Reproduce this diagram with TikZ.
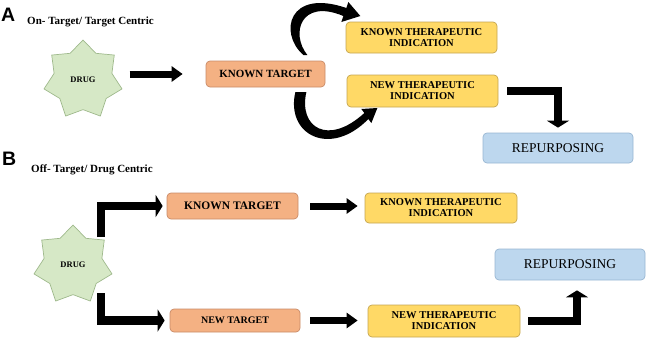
\documentclass[tikz,border=0pt]{standalone}
\usepackage{fontspec}
\setmainfont{Liberation Serif}
\newfontfamily\panelfont{Liberation Sans}
\usepackage{tikz}
\usetikzlibrary{arrows.meta,positioning,calc,shapes.geometric}
\definecolor{drugfill}{HTML}{D6E8C6}
\definecolor{drugline}{HTML}{9FB98C}
\definecolor{tgtfill}{HTML}{F4B183}
\definecolor{tgtline}{HTML}{C98B68}
\definecolor{indfill}{HTML}{FFD966}
\definecolor{indline}{HTML}{C4A552}
\definecolor{repfill}{HTML}{BDD7EE}
\definecolor{repline}{HTML}{98B6D2}
\tikzset{
  box/.style={draw,rounded corners=4pt,line width=0.7pt,inner sep=0pt,align=center},
  target/.style={box,fill=tgtfill,draw=tgtline,font=\bfseries\fontsize{11}{12}\selectfont},
  indic/.style={box,fill=indfill,draw=indline,minimum width=151pt,font=\bfseries\fontsize{10.5}{11}\selectfont},
  repur/.style={box,fill=repfill,draw=repline,minimum width=150pt,minimum height=30pt,font=\fontsize{13.5}{15}\selectfont},
  drug/.style={star,star points=7,star point ratio=1.35,minimum size=80pt,inner sep=0pt,fill=drugfill,draw=drugline,line width=0.7pt,font=\bfseries\fontsize{8.5}{10}\selectfont},
  bar/.style={line width=7pt,-{Triangle[length=11pt,width=15pt]}},
  elbow/.style={line width=8.5pt,line join=miter,-{Triangle[length=7pt,width=22pt]}},
  panel/.style={inner sep=0pt,font=\panelfont\bfseries\fontsize{19.5}{20}\selectfont},
  caption/.style={inner sep=0pt,anchor=base west,font=\bfseries\fontsize{11}{12}\selectfont}
}
\begin{document}
\begin{tikzpicture}[x=1pt,y=-1pt]
  \useasboundingbox (0,0) rectangle (650,340);
  \node[panel,anchor=west] (labA) at (1,15) {A};
  \node[caption] (capA) at (27,24) {On- Target/ Target Centric};
  \node[drug] (drugA) at (83,80) {DRUG};
  \node[target,minimum width=119pt,minimum height=26pt] (ktA) at (265.5,74) {KNOWN TARGET};
  \node[indic,minimum height=31pt] (ktiA) at (421.5,37.5) {KNOWN THERAPEUTIC\\INDICATION};
  \node[indic,minimum height=32pt] (ntiA) at (422.5,91) {NEW THERAPEUTIC\\INDICATION};
  \node[repur] (repA) at (558,148) {REPURPOSING};
  \draw[bar,shorten <=13pt,shorten >=23pt] (drugA.east |- ktA.west) -- (ktA.west);
  \begin{scope}[shift={(ktA.east)}]
    \fill (-22,-19) .. controls (-47,-41) and (-37,-86) .. (21,-66) -- (23,-72) -- (35,-58) -- (16,-52) -- (18,-58) .. controls (-25,-76) and (-35,-40) .. (-18,-19) -- cycle;
    \fill (-30,18) .. controls (-40,61) and (5,84) .. (43,45) -- (46,49) -- (52,34) -- (36,35) -- (39,39) .. controls (3,72) and (-27,54) .. (-19,18) -- cycle;
  \end{scope}
  \draw[elbow,shorten <=9pt,shorten >=5pt] (ntiA.east) -- (ntiA.east -| repA.north) -- (repA.north);

  \node[panel,anchor=west] (labB) at (2,158.5) {B};
  \node[caption] (capB) at (31,172) {Off- Target/ Drug Centric};
  \node[drug] (drugB) at (73,265) {DRUG};
  \node[target,minimum width=131pt,minimum height=26pt,font=\bfseries\fontsize{11.5}{12}\selectfont] (ktB) at (232.5,206) {KNOWN TARGET};
  \node[target,minimum width=130pt,minimum height=23pt,font=\bfseries\fontsize{10}{12}\selectfont] (ntB) at (235,320.5) {NEW TARGET};
  \node[indic,minimum width=152pt,minimum height=30pt] (ktiB) at (441,208) {KNOWN THERAPEUTIC\\INDICATION};
  \node[indic,minimum width=152pt,minimum height=32pt] (ntiB) at (444,321) {NEW THERAPEUTIC\\INDICATION};
  \node[repur,minimum height=31pt] (repB) at (570,264.5) {REPURPOSING};
  \coordinate (upB) at ($(drugB.center)+(28,-28)$);
  \coordinate (lowB) at ($(drugB.center)+(28,28)$);
  \draw[elbow,shorten >=4pt] (upB) -- (upB |- ktB.west) -- (ktB.west);
  \draw[elbow,shorten >=5pt] (lowB) -- (lowB |- ntB.west) -- (ntB.west);
  \draw[bar,shorten <=12pt,shorten >=7pt] (ktB.east) -- (ktB.east -| ktiB.west);
  \draw[bar,shorten <=10pt,shorten >=10pt] (ntB.east) -- (ntB.east -| ntiB.west);
  \draw[elbow,shorten <=8pt,shorten >=10pt] (ntiB.east) -- (ntiB.east -| {$(repB.south)+(7,0)$}) -- ($(repB.south)+(7,0)$);
\end{tikzpicture}
\end{document}
